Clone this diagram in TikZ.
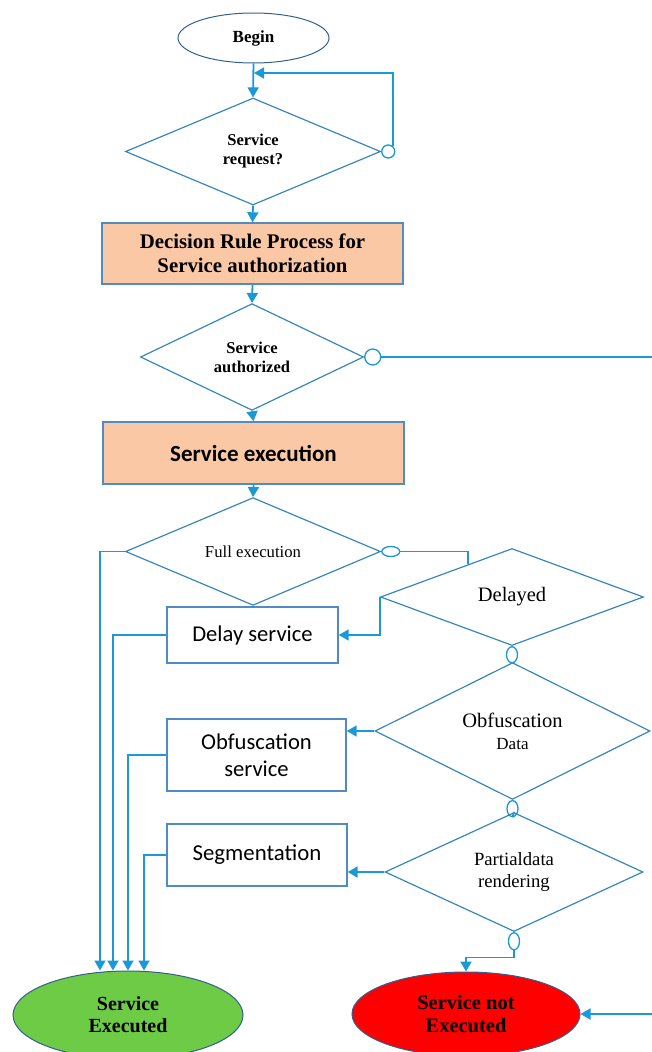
\documentclass[tikz,border=0pt]{standalone}
\usepackage{fontspec}
\setmainfont{Liberation Serif}
\newfontfamily\calib{Carlito}
\usetikzlibrary{shapes.geometric,arrows.meta,calc}

\definecolor{linkblue}{RGB}{27,152,214}
\definecolor{edgeblue}{RGB}{55,135,185}
\definecolor{boxblue}{RGB}{80,140,195}
\definecolor{rimblue}{RGB}{50,95,145}
\definecolor{peach}{RGB}{251,200,165}
\definecolor{okgreen}{RGB}{110,203,70}
\newcommand\fsz[2]{\fontsize{#1}{#2}\selectfont}

\begin{document}
\begin{tikzpicture}[x=1pt,y=-1pt,
  every node/.style={inner sep=0pt,align=center},
  decision/.style={diamond,draw=edgeblue,line width=1.2pt},
  process/.style={rectangle,draw=boxblue,line width=1.4pt,fill=peach},
  plain/.style={rectangle,draw=boxblue,line width=1.4pt},
  terminal/.style={ellipse,draw=rimblue,line width=1pt},
  joint/.style={ellipse,draw=linkblue,line width=1.3pt,fill=white},
  link/.style={draw=linkblue,line width=1.8pt},
  flow/.style={link,-{Triangle[width=11pt,length=10pt]}}]
\useasboundingbox (0,0) rectangle (651,1052);

\node[terminal,minimum width=151pt,minimum height=50pt,font=\fsz{17}{20}\bfseries] (begin) at (253.5,38) {Begin};
\node[decision,minimum width=255pt,minimum height=107pt,font=\fsz{16.5}{19}\bfseries] (dq) at (253,151.5) {Service\\request?};
\node[joint,minimum width=13pt,minimum height=13pt,anchor=west] (nq) at (dq.east) {};
\node[process,minimum width=301pt,minimum height=61pt,font=\fsz{20.8}{24}\bfseries] (b1) at (252.5,253.5) {Decision Rule Process for\\Service authorization};
\node[decision,minimum width=223pt,minimum height=99pt,font=\fsz{16.5}{19}\bfseries] (da) at (252,357) {Service\\authorized};
\node[joint,minimum width=16pt,minimum height=16pt,anchor=west] (na) at (da.east) {};
\node[process,minimum width=301pt,minimum height=62pt,font=\calib\fsz{23}{27}\bfseries] (b2) at (253.5,453) {Service execution};
\node[decision,minimum width=255pt,minimum height=91pt,font=\fsz{16.7}{20}] (df) at (253,551.5) {Full execution};
\node[joint,minimum width=18pt,minimum height=10pt,anchor=west] (nf) at (df.east) {};
\node[decision,minimum width=263pt,minimum height=97pt,font=\fsz{20.5}{24}] (dl) at (512,597) {Delayed};
\node[joint,minimum width=11pt,minimum height=16pt,anchor=north] (nl) at (dl.south) {};
\node[plain,minimum width=171pt,minimum height=56pt,font=\calib\fsz{22.6}{27}] (ds) at (252.5,635) {Delay service};
\node[decision,minimum width=275pt,minimum height=117pt,font=\fsz{20.5}{22}] (dob) at (512.5,731) {Obfuscation\\{\fsz{17}{22}Data}};
\node[joint,minimum width=11pt,minimum height=16pt,anchor=north] (no) at (dob.south) {};
\node[plain,minimum width=179pt,minimum height=72pt,font=\calib\fsz{22.6}{27}] (os) at (256.5,755) {Obfuscation\\service};
\node[decision,minimum width=258pt,minimum height=115pt,font=\fsz{18.7}{22}] (dp) at (514,872) {Partialdata\\rendering};
\node[joint,minimum width=11pt,minimum height=17pt,anchor=north] (np) at (dp.south) {};
\node[plain,minimum width=180pt,minimum height=62pt,font=\calib\fsz{22.8}{27}] (sg) at (257,855) {Segmentation};
\node[terminal,fill=okgreen,minimum width=230pt,minimum height=88pt,font=\fsz{20}{22}\bfseries] (se) at (128,1015) {Service\\Executed};
\node[terminal,fill=red,minimum width=228pt,minimum height=84pt,font=\fsz{20.5}{23}\bfseries] (sn) at (466,1014) {Service not\\Executed};
\coordinate (loopin) at (254,73);
\coordinate (rim) at (662,0);

\draw[flow] (begin.south) -- (dq.north);
\draw[flow] (nq.north east) |- (loopin);
\draw[flow] (dq.south) -- (b1.north);
\draw[flow] (b1.south) -- (da.north);
\draw[flow] (da.south) -- (b2.north);
\draw[flow] (na.east) -- (na.east -| rim) |- (sn.east);
\draw[flow] (b2.south) -- (df.north);
\draw[link] (df.south) -- (df.south |- ds.north);
\draw[link] (nf.east) -| ($(dl.west)!0.667!(dl.north)$);
\draw[flow] (dl.west) |- (ds.east);
\draw[link] (nl.south) -- (dob.north);
\draw[flow] (dob.west) -- (dob.west -| os.east);
\draw[link] (no.south) -- (dp.north);
\draw[flow] (dp.west) -- (dp.west -| sg.east);
\draw[flow] (np.south) |- ($(sn.north)+(0,-14)$) -- (sn.north);
\draw[flow] (df.west) -| ($(se.north)+(-28,0)$);
\draw[flow] (ds.west) -| ($(se.north)+(-15,0)$);
\draw[flow] (os.west) -| (se.north);
\draw[flow] (sg.west) -| ($(se.north)+(16,0)$);
\end{tikzpicture}
\end{document}
